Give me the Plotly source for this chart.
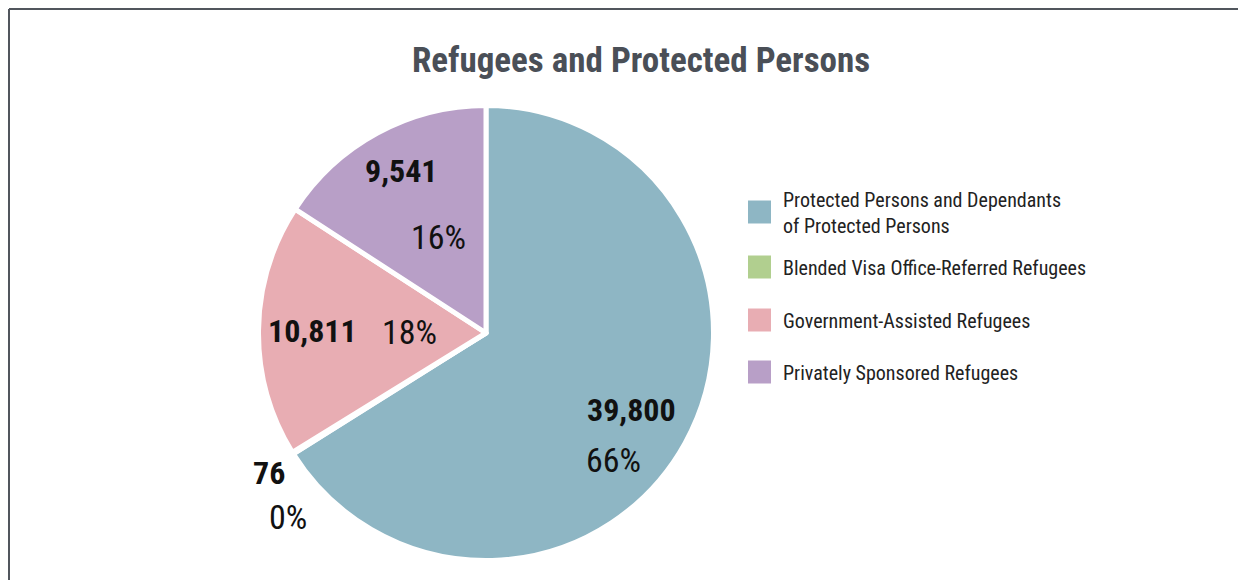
import math
import plotly.graph_objects as go

categories = [
    "Protected Persons and Dependants<br>of Protected Persons",
    "Blended Visa Office-Referred Refugees",
    "Government-Assisted Refugees",
    "Privately Sponsored Refugees",
]
values = [39800, 76, 10811, 9541]
colors = ["#8eb6c4", "#b1cf8f", "#e8adb3", "#b89fc7"]
title_text = "Refugees and Protected Persons"

W, H = 1246, 580
OFF = 8  # page body margin
FONT = "Roboto Condensed, Liberation Sans Narrow, DejaVu Sans Condensed, Roboto, sans-serif"


def px(x):
    return (x - OFF) / W


def py(y):
    return 1 - (y - OFF) / H


cx, cy, R = 486, 333, 225
RD = R + 2.5  # domain radius (white outline eats half the stroke)

# label placement per slice: (radius fraction, angle offset in degrees)
value_place = [(0.73, 1.0), (1.15, 1.0), (0.77, 0.0), (0.81, -1.0)]
pct_place = [(0.80, -16.0), (1.20, 11.0), (0.34, 0.0), (0.475, -2.0)]

fig = go.Figure()
fig.add_trace(go.Pie(
    labels=categories,
    values=values,
    sort=False,
    direction="clockwise",
    rotation=0,
    marker=dict(colors=colors, line=dict(color="white", width=5)),
    textinfo="none",
    showlegend=False,
    hoverinfo="label+value+percent",
    domain=dict(x=[px(cx - RD), px(cx + RD)], y=[py(cy + RD), py(cy - RD)]),
))

shapes = [
    dict(type="line", xref="paper", yref="paper", x0=px(9), x1=1.0, y0=py(9), y1=py(9),
         line=dict(color="#51565d", width=2)),
    dict(type="line", xref="paper", yref="paper", x0=px(9), x1=px(9), y0=py(9), y1=-0.05,
         line=dict(color="#51565d", width=2)),
]
annotations = []

# slice labels, placed along each slice's mid angle
total = sum(values)
cum = 0.0
for v, (rv, av), (rp, ap) in zip(values, value_place, pct_place):
    mid_cw = (cum + v / 2) / total * 360.0
    cum += v
    theta = 90.0 - mid_cw
    for r, a, txt, bold, size in [
        (rv, av, f"{v:,}", True, 32),
        (rp, ap, f"{round(v / total * 100):.0f}%", False, 34),
    ]:
        t = math.radians(theta + a)
        x = cx + r * R * math.cos(t)
        y = cy - r * R * math.sin(t)
        annotations.append(dict(
            xref="paper", yref="paper", x=px(x), y=py(y),
            xanchor="center", yanchor="middle", showarrow=False,
            text=f"<b>{txt}</b>" if bold else txt,
            font=dict(family=FONT, size=size, color="#111111"),
        ))

# legend
legend_y = [212, 267, 320, 372]
for lab, col, ly in zip(categories, colors, legend_y):
    shapes.append(dict(type="rect", xref="paper", yref="paper",
                       x0=px(748), x1=px(771), y0=py(ly + 11.5), y1=py(ly - 11.5),
                       fillcolor=col, line=dict(width=0)))
    annotations.append(dict(xref="paper", yref="paper", x=px(781), y=py(ly + 1),
                            xanchor="left", yanchor="middle", align="left",
                            text=lab, showarrow=False,
                            font=dict(family=FONT, size=20, color="#222222")))

fig.update_layout(
    width=W, height=H,
    margin=dict(l=0, r=0, t=0, b=0),
    paper_bgcolor="white",
    plot_bgcolor="white",
    title=dict(text="<b>" + title_text + "</b>", x=px(641), xanchor="center",
               y=py(60), yanchor="middle", yref="container",
               font=dict(family=FONT, size=35, color="#4a4f57")),
    shapes=shapes,
    annotations=annotations,
)

fig.write_html("out.html")
